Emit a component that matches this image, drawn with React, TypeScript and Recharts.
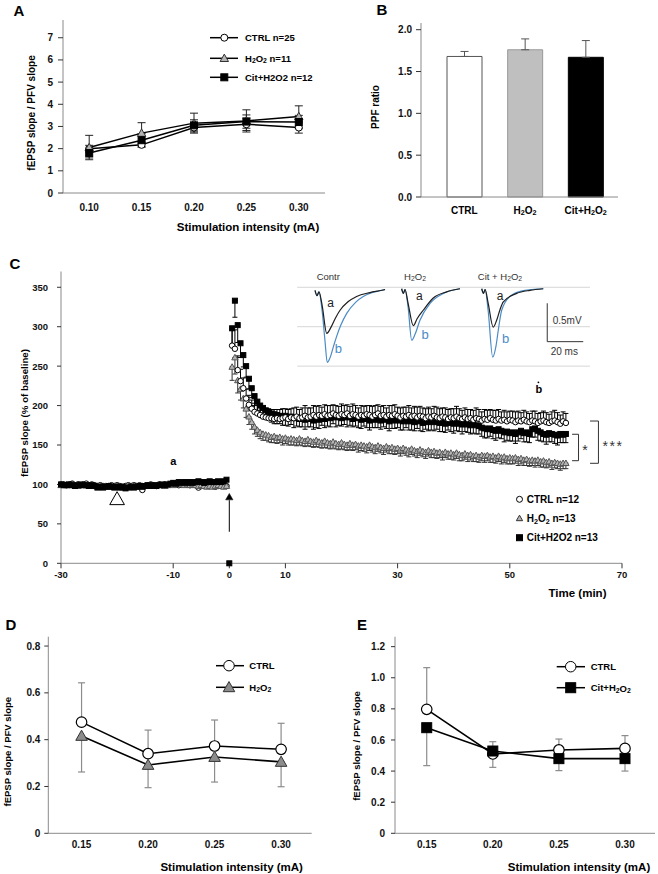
import React from 'react';
import {
  LineChart, Line, XAxis, YAxis, ErrorBar, BarChart, Bar, Cell,
  ScatterChart, Scatter, ReferenceLine, ReferenceDot,
} from 'recharts';

const FONT = '"Liberation Sans", Arial, Helvetica, sans-serif';
const AXIS = '#8a8a8a';
const BLUE = '#4a8bc6';

// ---------- Panel A ----------
const intensityA = [0.1, 0.15, 0.2, 0.25, 0.3];
const ctrlA = [2.0, 2.17, 2.95, 3.1, 2.95];
const ctrlAErr = [0.15, 0.1, 0.2, 0.28, 0.25];
const h2o2A = [2.05, 2.7, 3.15, 3.25, 3.45];
const h2o2AErr = [0.55, 0.47, 0.45, 0.5, 0.48];
const citA = [1.8, 2.38, 3.05, 3.22, 3.2];
const citAErr = [0.22, 0.3, 0.25, 0.3, 0.3];

// ---------- Panel B ----------
const groupsB = ['CTRL', 'H2O2', 'Cit+H2O2'];
const ppfB = [1.68, 1.76, 1.67];
const ppfErrB = [0.06, 0.13, 0.2];
const fillsB = ['#ffffff', '#bfbfbf', '#000000'];
const strokesB = ['#555555', '#999999', '#000000'];

// ---------- Panel C ----------
const baseTimes = [-30, -29.5, -29, -28.5, -28, -27.5, -27, -26.5, -26, -25.5,
  -25, -24.5, -24, -23.5, -23, -22.5, -22, -21.5, -21, -20.5,
  -20, -19.5, -19, -18.5, -18, -17.5, -17, -16.5, -16, -15.5,
  -15, -14.5, -14, -13.5, -13, -12.5, -12, -11.5, -11, -10.5,
  -10, -9.5, -9, -8.5, -8, -7.5, -7, -6.5, -6, -5.5,
  -5, -4.5, -4, -3.5, -3, -2.5, -2, -1.5, -1, -0.5];
const citBase = [100, 99, 99, 100, 99, 98, 99, 100, 99, 99,
  98, 99, 98, 96, 97, 96, 97, 98, 97, 96,
  97, 96, 97, 95, 96, 97, 96, 97, 98, 97,
  98, 99, 98, 99, 98, 99, 100, 99, 100, 101,
  102, 101, 103, 102, 103, 102, 103, 102, 103, 104,
  103, 102, 103, 104, 103, 103, 104, 103, 104, 106];
const ctrlBase = [100, 100, 99, 100, 101, 99, 100, 99, 100, 101,
  99, 100, 99, 98, 99, 98, 97, 98, 99, 98,
  99, 98, 97, 98, 99, 98, 99, 98, 99, 93,
  98, 99, 100, 99, 98, 100, 99, 100, 99, 100,
  101, 100, 99, 100, 101, 100, 99, 100, 99, 96,
  98, 99, 98, 99, 98, 97, 98, 99, 98, 98];
const h2o2Base = [99, 100, 100, 99, 100, 99, 98, 99, 100, 99,
  98, 99, 98, 97, 98, 97, 98, 97, 98, 97,
  98, 97, 96, 97, 98, 97, 98, 97, 98, 98,
  99, 98, 99, 98, 99, 100, 99, 98, 99, 100,
  99, 100, 101, 100, 99, 100, 99, 100, 99, 98,
  99, 98, 97, 98, 97, 98, 99, 98, 97, 98];

const postTimes = [0.5, 1, 1.5, 2, 2.5, 3, 3.5, 4, 4.5, 5,
  5.5, 6, 6.5, 7, 7.5, 8, 8.5, 9, 9.5, 10,
  10.5, 11, 11.5, 12, 12.5, 13, 13.5, 14, 14.5, 15,
  15.5, 16, 16.5, 17, 17.5, 18, 18.5, 19, 19.5, 20,
  20.5, 21, 21.5, 22, 22.5, 23, 23.5, 24, 24.5, 25,
  25.5, 26, 26.5, 27, 27.5, 28, 28.5, 29, 29.5, 30,
  30.5, 31, 31.5, 32, 32.5, 33, 33.5, 34, 34.5, 35,
  35.5, 36, 36.5, 37, 37.5, 38, 38.5, 39, 39.5, 40,
  40.5, 41, 41.5, 42, 42.5, 43, 43.5, 44, 44.5, 45,
  45.5, 46, 46.5, 47, 47.5, 48, 48.5, 49, 49.5, 50,
  50.5, 51, 51.5, 52, 52.5, 53, 53.5, 54, 54.5, 55,
  55.5, 56, 56.5, 57, 57.5, 58, 58.5, 59, 59.5, 60];
const citPost = [298, 333, 302, 279, 264, 250, 234, 222, 212, 205,
  200, 197, 194, 192, 190, 189, 188, 187, 186, 187,
  185, 186, 184, 185, 183, 184, 182, 184, 183, 181,
  184, 182, 185, 183, 186, 184, 187, 185, 186, 184,
  187, 185, 186, 183, 185, 184, 182, 184, 183, 181,
  183, 182, 184, 181, 183, 182, 180, 182, 181, 183,
  181, 180, 182, 180, 181, 179, 181, 180, 178, 180,
  179, 181, 179, 180, 178, 179, 177, 179, 178, 177,
  179, 177, 176, 178, 176, 175, 177, 175, 174, 172,
  171, 170, 171, 169, 168, 170, 168, 166, 167, 165,
  166, 164, 166, 168, 165, 166, 164, 170, 171, 168,
  166, 164, 163, 165, 164, 163, 162, 164, 163, 164];
const ctrlPost = [276, 272, 245, 231, 222, 209, 201, 196, 192, 190,
  188, 186, 185, 184, 184, 183, 184, 183, 184, 185,
  183, 185, 184, 186, 184, 185, 187, 185, 186, 188,
  186, 188, 187, 189, 187, 188, 190, 188, 187, 189,
  188, 190, 187, 189, 188, 186, 188, 187, 189, 188,
  186, 188, 190, 187, 188, 186, 188, 187, 189, 187,
  185, 187, 186, 188, 186, 187, 185, 187, 186, 184,
  186, 185, 187, 185, 184, 186, 185, 183, 185, 184,
  186, 184, 183, 185, 183, 184, 182, 184, 183, 181,
  183, 182, 184, 182, 181, 183, 181, 182, 180, 182,
  181, 179, 181, 180, 182, 180, 179, 181, 180, 178,
  180, 181, 179, 178, 180, 181, 179, 177, 180, 178];
const h2o2Post = [249, 261, 232, 221, 209, 196, 186, 179, 173, 169,
  166, 164, 163, 162, 160, 161, 159, 160, 158, 159,
  157, 158, 157, 156, 158, 156, 155, 157, 155, 154,
  156, 154, 153, 155, 153, 152, 154, 152, 151, 153,
  151, 150, 152, 150, 151, 149, 150, 149, 148, 150,
  148, 147, 149, 147, 146, 148, 146, 147, 145, 146,
  144, 146, 144, 143, 145, 143, 142, 144, 142, 141,
  143, 141, 142, 140, 141, 139, 141, 139, 140, 138,
  140, 138, 137, 139, 137, 138, 136, 137, 135, 137,
  136, 137, 135, 136, 134, 136, 134, 135, 133, 134,
  133, 134, 132, 133, 131, 132, 130, 131, 130, 131,
  129, 130, 128, 129, 127, 128, 127, 126, 127, 127];
const ctrlPostErr = [20, 24, 18, 15, 13, 12, 12, 11, 11, 12,
  11, 12, 11, 12, 11, 12, 11, 12, 12, 11,
  12, 11, 13, 12, 11, 12, 13, 12, 11, 12,
  13, 12, 11, 12, 13, 12, 11, 12, 12, 13,
  12, 11, 12, 13, 12, 11, 12, 12, 11, 12,
  13, 12, 11, 12, 12, 11, 12, 13, 12, 11,
  12, 11, 12, 12, 11, 12, 13, 12, 11, 12,
  12, 11, 12, 13, 12, 11, 12, 12, 11, 12,
  13, 12, 11, 12, 12, 11, 12, 13, 12, 11,
  12, 12, 11, 12, 13, 12, 11, 12, 12, 11,
  12, 13, 12, 11, 12, 12, 11, 12, 13, 12,
  11, 12, 12, 11, 12, 13, 12, 11, 12, 12];
const citPostErr = [21, 21, 22, 18, 15, 14, 13, 12, 12, 11,
  11, 12, 11, 10, 11, 12, 11, 10, 11, 12,
  11, 10, 12, 11, 10, 11, 12, 11, 10, 11,
  12, 11, 10, 11, 12, 11, 10, 12, 11, 10,
  11, 12, 11, 10, 11, 12, 11, 10, 11, 12,
  11, 10, 12, 11, 10, 11, 12, 11, 10, 11,
  12, 11, 10, 11, 12, 11, 10, 12, 11, 10,
  11, 12, 11, 10, 11, 12, 11, 10, 11, 12,
  11, 10, 12, 11, 10, 11, 12, 11, 10, 11,
  12, 11, 10, 11, 12, 11, 10, 12, 11, 10,
  11, 12, 11, 10, 11, 12, 11, 10, 11, 12,
  11, 10, 12, 11, 10, 11, 12, 11, 10, 11];
const h2o2PostErr = [17, 21, 16, 14, 12, 11, 10, 9, 9, 8,
  8, 8, 7, 8, 7, 8, 7, 7, 8, 7,
  7, 8, 7, 7, 8, 7, 7, 8, 7, 7,
  8, 7, 7, 8, 7, 7, 8, 7, 7, 8,
  7, 7, 8, 7, 7, 8, 7, 7, 8, 7,
  7, 8, 7, 7, 8, 7, 7, 8, 7, 7,
  8, 7, 7, 8, 7, 7, 8, 7, 7, 8,
  7, 7, 8, 7, 7, 8, 7, 7, 8, 7,
  7, 8, 7, 7, 8, 7, 7, 8, 7, 7,
  8, 7, 7, 8, 7, 7, 8, 7, 7, 8,
  7, 7, 8, 7, 7, 8, 7, 7, 8, 7,
  7, 8, 7, 7, 8, 7, 7, 8, 7, 7];
const citArtifactTime = [0];
const citArtifactValue = [0];

// inset traces [ms, mV]
const contrATrace = [[12.8, -0.03], [13.9, -0.1], [15.0, -0.05], [16.7, -0.22], [19.3, -0.59], [21.7, -0.51], [24.4, -0.38], [26.7, -0.29], [31.1, -0.18], [35.9, -0.11], [43.3, -0.06], [50, -0.03], [51.7, -0.02]];
const contrBTrace = [[12.8, -0.03], [13.9, -0.1], [15.0, -0.05], [16.7, -0.29], [18.3, -0.68], [19.6, -0.97], [21.1, -0.91], [23.3, -0.74], [24.8, -0.63], [27.2, -0.48], [30.4, -0.33], [35.6, -0.18], [39.6, -0.11], [44.4, -0.06], [50, -0.03], [51.7, -0.02]];
const h2o2ATrace = [[60.9, -0.01], [61.9, -0.07], [62.8, -0.02], [64.5, -0.2], [67.4, -0.49], [69.5, -0.4], [72.9, -0.29], [78.5, -0.13], [85.9, -0.05], [93.3, -0.01]];
const h2o2BTrace = [[60.9, -0.01], [61.9, -0.07], [62.8, -0.02], [64.5, -0.25], [66.5, -0.68], [68.4, -0.6], [71.1, -0.42], [76.7, -0.2], [84.1, -0.07], [93.3, -0.01]];
const citATrace = [[105.4, -0.01], [106.4, -0.07], [107.3, -0.02], [109, -0.2], [111.8, -0.51], [113.7, -0.42], [115.6, -0.28], [117.4, -0.18], [124.8, -0.07], [132.2, -0.03], [139.6, -0.01]];
const citBTrace = [[105.4, -0.01], [106.4, -0.07], [107.3, -0.02], [109, -0.3], [111.5, -0.9], [113.3, -0.76], [114.6, -0.55], [116.5, -0.29], [121.1, -0.11], [128.5, -0.035], [139.6, -0.01]];

// ---------- Panel D ----------
const intensityDE = [0.15, 0.2, 0.25, 0.3];
const ctrlD = [0.475, 0.34, 0.373, 0.359];
const ctrlDErr = [0.168, 0.101, 0.111, 0.111];
const h2o2D = [0.416, 0.292, 0.326, 0.305];
const h2o2DErr = [0.154, 0.097, 0.107, 0.106];

// ---------- Panel E ----------
const ctrlE = [0.797, 0.51, 0.536, 0.546];
const ctrlEErr = [0.268, 0.079, 0.07, 0.082];
const citE = [0.679, 0.529, 0.48, 0.48];
const citEErr = [0.244, 0.105, 0.077, 0.08];

// ---------- derived tables ----------
const rowsA = intensityA.map((x, i) => ({
  x, ctrl: ctrlA[i], ctrlE: ctrlAErr[i], h2o2: h2o2A[i], h2o2E: h2o2AErr[i], cit: citA[i], citE: citAErr[i],
}));
const rowsB = groupsB.map((name, i) => ({ name, v: ppfB[i], e: [0, ppfErrB[i]] }));
const mkRows = (times, vals, errs, dir) => times.map((t, i) => ({
  t, v: vals[i], err: errs ? (dir === 'up' ? [0, errs[i]] : [errs[i], 0]) : undefined,
}));
const ctrlBaseRows = mkRows(baseTimes, ctrlBase, null, 'up');
const h2o2BaseRows = mkRows(baseTimes, h2o2Base, null, 'up');
const citBaseRows = mkRows(baseTimes, citBase, null, 'up');
const ctrlPostRows = mkRows(postTimes, ctrlPost, ctrlPostErr, 'up');
const h2o2PostRows = mkRows(postTimes, h2o2Post, h2o2PostErr, 'down');
const citPostRows = mkRows(postTimes, citPost, citPostErr, 'down');
const citArtifactRows = citArtifactTime.map((t, i) => ({ t, v: citArtifactValue[i] }));
const toTrace = (arr) => arr.map(([ms, mv]) => ({ ms, mv }));
const rowsD = intensityDE.map((x, i) => ({
  x, ctrl: ctrlD[i], ctrlErr: [0, ctrlDErr[i]], h2o2: h2o2D[i], h2o2Err: [h2o2DErr[i], 0],
}));
const rowsE = intensityDE.map((x, i) => ({
  x, ctrl: ctrlE[i], ctrlErr: [0, ctrlEErr[i]], cit: citE[i], citErr: [citEErr[i], 0],
}));

// ---------- helpers ----------
function Marker({ kind, cx, cy, size, fill, stroke, sw = 1 }) {
  if (cx == null || cy == null || isNaN(cx) || isNaN(cy)) return null;
  const h = size / 2;
  if (kind === 'circle') return <circle cx={cx} cy={cy} r={h} fill={fill} stroke={stroke} strokeWidth={sw} />;
  if (kind === 'square') return <rect x={cx - h} y={cy - h} width={size} height={size} fill={fill} stroke={stroke} strokeWidth={sw} />;
  const top = cy - h * 1.05;
  const bot = cy + h * 0.8;
  return <polygon points={`${cx},${top} ${cx - h * 1.05},${bot} ${cx + h * 1.05},${bot}`} fill={fill} stroke={stroke} strokeWidth={sw} />;
}
const dotFn = (kind, size, fill, stroke, sw = 1) => (p) => (
  <Marker key={`${kind}-${p.index}`} kind={kind} cx={p.cx} cy={p.cy} size={size} fill={fill} stroke={stroke} sw={sw} />
);
const shapeFn = (kind, size, fill, stroke, sw = 1) => (p) => (
  <Marker kind={kind} cx={p.cx} cy={p.cy} size={size} fill={fill} stroke={stroke} sw={sw} />
);

function ChemT({ pre = '', suf = '', fs }) {
  const s = fs * 0.72;
  const d = fs * 0.22;
  return (
    <>
      {pre}H<tspan fontSize={s} dy={d}>2</tspan><tspan dy={-d}>O</tspan><tspan fontSize={s} dy={d}>2</tspan>
      {suf ? <tspan dy={-d}>{suf}</tspan> : null}
    </>
  );
}

function T({ x, y, children, fs = 10, w = 'bold', anchor = 'middle', rot = 0, color = '#000', ls = 0 }) {
  return (
    <text x={x} y={y} fontSize={fs} fontWeight={w} textAnchor={anchor} dominantBaseline="central" fill={color}
      fontFamily={FONT} letterSpacing={ls} transform={rot ? `rotate(${rot} ${x} ${y})` : undefined}>
      {children}
    </text>
  );
}

function LegRow({ y, x1, x2, mx, tx, kind, size, fill, stroke, fs, children, line = true }) {
  return (
    <g>
      {line ? <line x1={x1} x2={x2} y1={y} y2={y} stroke="#000" strokeWidth={1.5} /> : null}
      <Marker kind={kind} cx={mx} cy={y} size={size} fill={fill} stroke={stroke} />
      <T x={tx} y={y} fs={fs} anchor="start">{children}</T>
    </g>
  );
}

const textShape = (label, color, fs, weight = 'normal', dy = 0, ls = 0) => (p) => (
  <text x={p.cx} y={p.cy} dy={dy} textAnchor="middle" dominantBaseline="central" fontSize={fs} fontWeight={weight}
    fill={color} fontFamily={FONT} letterSpacing={ls}>{label}</text>
);

function BTick({ x, y, payload }) {
  const v = payload.value;
  return (
    <text x={x} y={y + 5} textAnchor="middle" dominantBaseline="central" fontSize={10} fontWeight="bold" fontFamily={FONT} fill="#000">
      {v === 'CTRL' ? 'CTRL' : v === 'H2O2' ? <ChemT fs={10} /> : <ChemT pre="Cit+" fs={10} />}
    </text>
  );
}

const tick = (fs) => ({ fill: '#111', fontSize: fs, fontWeight: 'bold', fontFamily: FONT });
const f2 = (v) => v.toFixed(2);
const f1z = (v) => (v === 0 ? '0' : v.toFixed(1));

export default function App() {
  return (
    <div style={{ position: 'absolute', left: 0, top: 0, width: 658, height: 874, background: '#fff', overflow: 'hidden', fontFamily: FONT }}>
      {/* Panel A */}
      <div style={{ position: 'absolute', left: 0, top: 0 }}>
        <LineChart width={330} height={232} data={rowsA} margin={{ top: 20, right: 5, bottom: 0, left: 0 }}>
          <XAxis dataKey="x" type="number" domain={[0.075, 0.325]} ticks={intensityA} tickFormatter={f2}
            height={39} tickSize={5} tickMargin={6} tickLine={false} axisLine={{ stroke: AXIS }} tick={tick(10)} />
          <YAxis type="number" domain={[0, 7.8]} ticks={[0, 1, 2, 3, 4, 5, 6, 7]} width={63} tickSize={5} tickMargin={5}
            tickLine={{ stroke: '#333' }} axisLine={{ stroke: AXIS }} tick={tick(10)} />
          <Line dataKey="ctrl" stroke="#000" strokeWidth={1.5} isAnimationActive={false} dot={dotFn('circle', 7, '#fff', '#000')}>
            <ErrorBar dataKey="ctrlE" direction="y" width={4} stroke="#222" strokeWidth={1} />
          </Line>
          <Line dataKey="h2o2" stroke="#000" strokeWidth={1.5} isAnimationActive={false} dot={dotFn('triangle', 8, '#b3b3b3', '#333')}>
            <ErrorBar dataKey="h2o2E" direction="y" width={4} stroke="#222" strokeWidth={1} />
          </Line>
          <Line dataKey="cit" stroke="#000" strokeWidth={1.5} isAnimationActive={false} dot={dotFn('square', 7, '#000', '#000')}>
            <ErrorBar dataKey="citE" direction="y" width={4} stroke="#222" strokeWidth={1} />
          </Line>
        </LineChart>
      </div>

      {/* Panel B */}
      <div style={{ position: 'absolute', left: 330, top: 0 }}>
        <BarChart width={328} height={232} data={rowsB} margin={{ top: 23, right: 40, bottom: 0, left: 0 }}>
          <XAxis dataKey="name" type="category" padding={{ left: 13, right: 2 }} height={35} tickSize={6} tickMargin={2}
            tickLine={false} axisLine={{ stroke: AXIS }} tick={<BTick />} interval={0} />
          <YAxis type="number" domain={[0, 2.08]} ticks={[0, 0.5, 1, 1.5, 2]} tickFormatter={(v) => v.toFixed(1)} width={91}
            tickSize={5} tickMargin={4} tickLine={{ stroke: '#333' }} axisLine={{ stroke: AXIS }} tick={tick(10)} />
          <Bar dataKey="v" barSize={35} isAnimationActive={false}>
            {rowsB.map((r, i) => <Cell key={r.name} fill={fillsB[i]} stroke={strokesB[i]} strokeWidth={1} />)}
            <ErrorBar dataKey="e" direction="y" width={4} stroke="#555" strokeWidth={1} />
          </Bar>
        </BarChart>
      </div>

      {/* Panel C */}
      <div style={{ position: 'absolute', left: 0, top: 260 }}>
        <ScatterChart width={658} height={340} margin={{ top: 11.5, right: 36, bottom: 6.7, left: 0 }}>
          <XAxis dataKey="t" type="number" domain={[-30, 70]} ticks={[-30, -10, 0, 10, 30, 50, 70]} height={30}
            tickSize={5} tickMargin={3} tickLine={{ stroke: '#333' }} axisLine={{ stroke: AXIS }} tick={tick(9.5)} />
          <YAxis dataKey="v" type="number" domain={[0, 370]} ticks={[0, 50, 100, 150, 200, 250, 300, 350]} width={61}
            tickSize={4} tickMargin={9} tickLine={{ stroke: '#333' }} axisLine={{ stroke: AXIS }} tick={tick(9.5)} />
          {[350, 300, 250].map((y) => (
            <ReferenceLine key={y} segment={[{ x: 12.1, y }, { x: 64.3, y }]} stroke="#d6d6d6" strokeWidth={1} />
          ))}
          <Scatter data={ctrlBaseRows} isAnimationActive={false} shape={shapeFn('circle', 5.5, '#fff', '#000')} />
          <Scatter data={h2o2BaseRows} isAnimationActive={false} shape={shapeFn('triangle', 6, '#b3b3b3', '#555')} />
          <Scatter data={citBaseRows} isAnimationActive={false} shape={shapeFn('square', 5, '#000', '#000')} />
          <Scatter data={h2o2PostRows} isAnimationActive={false} shape={shapeFn('triangle', 6, '#b3b3b3', '#555')}>
            <ErrorBar dataKey="err" direction="y" width={2.5} stroke="#333" strokeWidth={1} />
          </Scatter>
          <Scatter data={citPostRows} isAnimationActive={false} shape={shapeFn('square', 5, '#000', '#000')}>
            <ErrorBar dataKey="err" direction="y" width={2.5} stroke="#000" strokeWidth={1} />
          </Scatter>
          <Scatter data={ctrlPostRows} isAnimationActive={false} shape={shapeFn('circle', 5.5, '#fff', '#000')}>
            <ErrorBar dataKey="err" direction="y" width={2.5} stroke="#000" strokeWidth={1} />
          </Scatter>
          <Scatter data={citArtifactRows} isAnimationActive={false} shape={shapeFn('square', 5, '#000', '#000')} />
          {/* H2O2 application marker and tetanus arrow */}
          <ReferenceDot x={-20} y={81.5} r={0} shape={(p) => <Marker kind="triangle" cx={p.cx} cy={p.cy} size={14} fill="#fff" stroke="#000" sw={1} />} />
          <ReferenceLine segment={[{ x: 0, y: 40 }, { x: 0, y: 80 }]} stroke="#000" strokeWidth={1} />
          <ReferenceDot x={0} y={84} r={0} shape={(p) => <Marker kind="triangle" cx={p.cx} cy={p.cy} size={7} fill="#000" stroke="#000" sw={0.5} />} />
          <ReferenceDot x={-10} y={130} r={0} shape={textShape('a', '#000', 11, 'bold')} />
          <ReferenceDot x={55.2} y={220.6} r={0} shape={textShape('b', '#000', 11, 'bold')} />
          <ReferenceDot x={55.1} y={229.5} r={0} shape={(p) => <circle cx={p.cx} cy={p.cy} r={0.9} fill="#000" />} />
          {/* significance brackets */}
          <ReferenceLine segment={[{ x: 61.1, y: 163.6 }, { x: 62.25, y: 163.6 }]} stroke="#333" />
          <ReferenceLine segment={[{ x: 62.25, y: 163.6 }, { x: 62.25, y: 130.1 }]} stroke="#333" />
          <ReferenceLine segment={[{ x: 62.25, y: 130.1 }, { x: 61.1, y: 130.1 }]} stroke="#333" />
          <ReferenceLine segment={[{ x: 64.3, y: 180.4 }, { x: 65.8, y: 180.4 }]} stroke="#333" />
          <ReferenceLine segment={[{ x: 65.8, y: 180.4 }, { x: 65.8, y: 126.8 }]} stroke="#333" />
          <ReferenceLine segment={[{ x: 65.8, y: 126.8 }, { x: 64.3, y: 126.8 }]} stroke="#333" />
          <ReferenceDot x={63.4} y={148} r={0} shape={textShape('*', '#333', 14, 'normal', '0.23em')} />
          <ReferenceDot x={68.4} y={153} r={0} shape={textShape('***', '#333', 14, 'normal', '0.23em', 1.5)} />
        </ScatterChart>
      </div>

      {/* Inset traces */}
      <div style={{ position: 'absolute', left: 292, top: 278 }}>
        <LineChart width={300} height={100} margin={{ top: 0, right: 0, bottom: 0, left: 0 }}>
          <XAxis dataKey="ms" type="number" domain={[0, 166.67]} hide allowDataOverflow />
          <YAxis type="number" domain={[-1.172, 0.13]} hide allowDataOverflow />
          <Line data={toTrace(contrBTrace)} dataKey="mv" type="monotone" stroke={BLUE} strokeWidth={1.2} dot={false} isAnimationActive={false} />
          <Line data={toTrace(contrATrace)} dataKey="mv" type="monotone" stroke="#1e1e1e" strokeWidth={1.2} dot={false} isAnimationActive={false} />
          <Line data={toTrace(h2o2BTrace)} dataKey="mv" type="monotone" stroke={BLUE} strokeWidth={1.2} dot={false} isAnimationActive={false} />
          <Line data={toTrace(h2o2ATrace)} dataKey="mv" type="monotone" stroke="#1e1e1e" strokeWidth={1.2} dot={false} isAnimationActive={false} />
          <Line data={toTrace(citBTrace)} dataKey="mv" type="monotone" stroke={BLUE} strokeWidth={1.2} dot={false} isAnimationActive={false} />
          <Line data={toTrace(citATrace)} dataKey="mv" type="monotone" stroke="#1e1e1e" strokeWidth={1.2} dot={false} isAnimationActive={false} />
          <ReferenceLine segment={[{ x: 141.8, y: -0.199 }, { x: 141.8, y: -0.699 }]} stroke="#333" strokeWidth={1} />
          <ReferenceLine segment={[{ x: 141.8, y: -0.699 }, { x: 161.8, y: -0.699 }]} stroke="#333" strokeWidth={1} />
          <ReferenceDot x={21.5} y={-0.2} r={0} shape={textShape('a', '#222', 12)} />
          <ReferenceDot x={25.7} y={-0.79} r={0} shape={textShape('b', BLUE, 13)} />
          <ReferenceDot x={70.7} y={-0.11} r={0} shape={textShape('a', '#222', 12)} />
          <ReferenceDot x={73.9} y={-0.6} r={0} shape={textShape('b', BLUE, 13)} />
          <ReferenceDot x={115.6} y={-0.1} r={0} shape={textShape('a', '#222', 12)} />
          <ReferenceDot x={118.7} y={-0.655} r={0} shape={textShape('b', BLUE, 13)} />
        </LineChart>
      </div>

      {/* Panel D */}
      <div style={{ position: 'absolute', left: 0, top: 620 }}>
        <LineChart width={330} height={254} data={rowsD} margin={{ top: 16.7, right: 18.3, bottom: 0, left: 0 }}>
          <XAxis dataKey="x" type="number" domain={[0.125, 0.323]} ticks={intensityDE} tickFormatter={f2}
            height={40.7} tickSize={5} tickMargin={3} tickLine={false} axisLine={{ stroke: AXIS }} tick={tick(10)} />
          <YAxis type="number" domain={[0, 0.84]} ticks={[0, 0.2, 0.4, 0.6, 0.8]} tickFormatter={f1z} width={48.3}
            tickSize={4} tickMargin={4} tickLine={{ stroke: '#333' }} axisLine={{ stroke: AXIS }} tick={tick(10)} />
          <Line dataKey="ctrl" stroke="#000" strokeWidth={1.6} isAnimationActive={false} dot={dotFn('circle', 10.5, '#fff', '#000', 1.2)}>
            <ErrorBar dataKey="ctrlErr" direction="y" width={3.5} stroke="#8c8c8c" strokeWidth={1.2} />
          </Line>
          <Line dataKey="h2o2" stroke="#000" strokeWidth={1.6} isAnimationActive={false} dot={dotFn('triangle', 11, '#8c8c8c', '#333', 1)}>
            <ErrorBar dataKey="h2o2Err" direction="y" width={3.5} stroke="#8c8c8c" strokeWidth={1.2} />
          </Line>
        </LineChart>
      </div>

      {/* Panel E */}
      <div style={{ position: 'absolute', left: 330, top: 620 }}>
        <LineChart width={328} height={254} data={rowsE} margin={{ top: 16.7, right: 3, bottom: 0, left: 0 }}>
          <XAxis dataKey="x" type="number" domain={[0.126, 0.3227]} ticks={intensityDE} tickFormatter={f2}
            height={40.7} tickSize={5} tickMargin={3} tickLine={false} axisLine={{ stroke: AXIS }} tick={tick(10)} />
          <YAxis type="number" domain={[0, 1.264]} ticks={[0, 0.2, 0.4, 0.6, 0.8, 1.0, 1.2]} tickFormatter={f1z} width={65}
            tickSize={4} tickMargin={6} tickLine={{ stroke: '#333' }} axisLine={{ stroke: AXIS }} tick={tick(10)} />
          <Line dataKey="ctrl" stroke="#000" strokeWidth={1.6} isAnimationActive={false} dot={dotFn('circle', 10.5, '#fff', '#000', 1.2)}>
            <ErrorBar dataKey="ctrlErr" direction="y" width={3.5} stroke="#8c8c8c" strokeWidth={1.2} />
          </Line>
          <Line dataKey="cit" stroke="#000" strokeWidth={1.6} isAnimationActive={false} dot={dotFn('square', 10, '#000', '#000')}>
            <ErrorBar dataKey="citErr" direction="y" width={3.5} stroke="#8c8c8c" strokeWidth={1.2} />
          </Line>
        </LineChart>
      </div>

      {/* Text & legends overlay */}
      <svg width={658} height={874} style={{ position: 'absolute', left: 0, top: 0, pointerEvents: 'none' }}>
        <T x={19} y={10} fs={15}>A</T>
        <T x={382} y={9} fs={15}>B</T>
        <T x={15} y={263} fs={15}>C</T>
        <T x={11} y={624} fs={15}>D</T>
        <T x={362} y={624} fs={15}>E</T>

        <T x={31} y={113} fs={10} rot={-90}>fEPSP slope / PFV slope</T>
        <T x={248} y={227} fs={11.5}>Stimulation intensity (mA)</T>
        <T x={375} y={107} fs={10} rot={-90}>PPF ratio</T>
        <T x={24} y={413} fs={9.7} rot={-90}>fEPSP slope (% of baseline)</T>
        <T x={577.5} y={593} fs={11.5}>Time (min)</T>
        <T x={8} y={751.7} fs={9.5} rot={-90}>fEPSP slope / PFV slope</T>
        <T x={231.7} y={866.7} fs={11.5}>Stimulation intensity (mA)</T>
        <T x={356} y={746} fs={9.5} rot={-90}>fEPSP slope / PFV slope</T>
        <T x={579} y={866.7} fs={11.5}>Stimulation intensity (mA)</T>

        {/* legend A */}
        <LegRow y={37.7} x1={210} x2={238} mx={224.3} tx={245} kind="circle" size={7} fill="#fff" stroke="#000" fs={9.5}>CTRL n=25</LegRow>
        <LegRow y={58.3} x1={210} x2={238} mx={224.3} tx={245} kind="triangle" size={8} fill="#b3b3b3" stroke="#333" fs={9.5}><ChemT fs={9.5} suf=" n=11" /></LegRow>
        <LegRow y={77.3} x1={210} x2={238} mx={224.3} tx={245} kind="square" size={7} fill="#000" stroke="#000" fs={9.5}>Cit+H2O2 n=12</LegRow>

        {/* legend C */}
        <LegRow line={false} y={499.3} mx={519.5} tx={526.7} kind="circle" size={6} fill="#fff" stroke="#000" fs={10}>CTRL n=12</LegRow>
        <LegRow line={false} y={518.3} mx={519.5} tx={526.7} kind="triangle" size={6} fill="#b3b3b3" stroke="#333" fs={10}><ChemT fs={10} suf=" n=13" /></LegRow>
        <LegRow line={false} y={537.7} mx={519.5} tx={526.7} kind="square" size={6} fill="#000" stroke="#000" fs={10}>Cit+H2O2 n=13</LegRow>

        {/* legend D */}
        <LegRow y={665.7} x1={216} x2={244} mx={229} tx={249.3} kind="circle" size={10.5} fill="#fff" stroke="#000" fs={9.5}>CTRL</LegRow>
        <LegRow y={687.3} x1={216} x2={244} mx={229} tx={249.3} kind="triangle" size={11} fill="#8c8c8c" stroke="#333" fs={9.5}><ChemT fs={9.5} /></LegRow>

        {/* legend E */}
        <LegRow y={666.7} x1={556.7} x2={585} mx={570.7} tx={590.7} kind="circle" size={10.5} fill="#fff" stroke="#000" fs={9.5}>CTRL</LegRow>
        <LegRow y={687.7} x1={556.7} x2={585} mx={570.7} tx={590.7} kind="square" size={10} fill="#000" stroke="#000" fs={9.5}><ChemT fs={9.5} pre="Cit+" /></LegRow>

        {/* inset titles and scale bar labels */}
        <T x={328.3} y={276.7} fs={9.5} w="normal" color="#333">Contr</T>
        <T x={415} y={276} fs={9.5} w="normal" color="#333"><ChemT fs={9.5} /></T>
        <T x={500} y={276} fs={9.5} w="normal" color="#333"><ChemT fs={9.5} pre="Cit + " /></T>
        <T x={552.7} y={320.7} fs={10} w="normal" color="#333" anchor="start">0.5mV</T>
        <T x={550.7} y={351} fs={10} w="normal" color="#333" anchor="start">20 ms</T>
      </svg>
    </div>
  );
}
